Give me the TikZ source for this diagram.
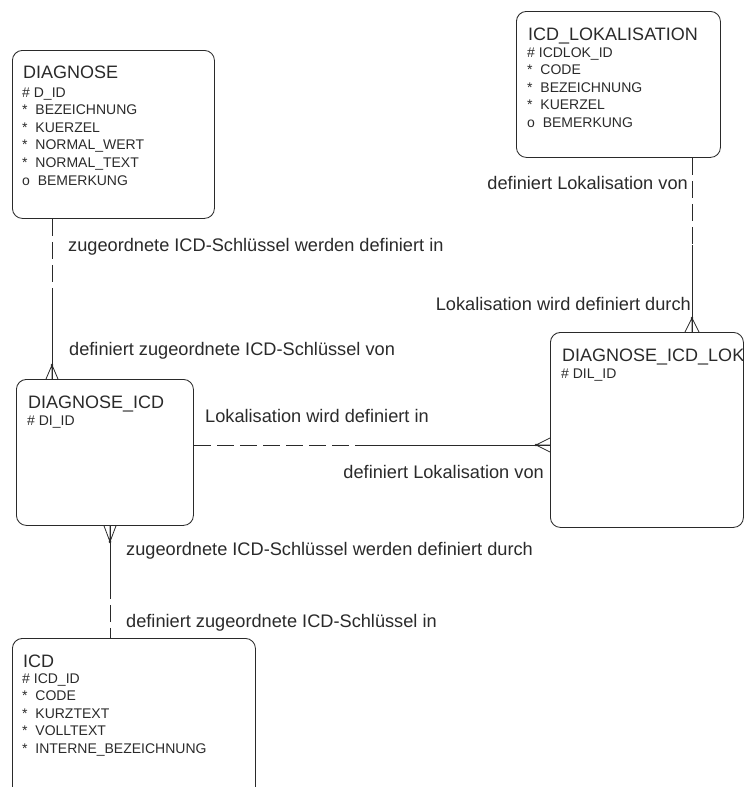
\documentclass[tikz,border=0pt]{standalone}
\usepackage{fontspec}
\setmainfont{Liberation Sans}
\usetikzlibrary{calc}
\definecolor{ink}{HTML}{2A2A2A}

\tikzset{
  entity/.style={draw=ink, line width=0.85pt, rounded corners=10pt, anchor=north west, inner sep=0pt},
  etitle/.style={anchor=base west, inner sep=0pt, text=ink, font=\fontsize{18}{20}\selectfont},
  eattr/.style={anchor=base west, inner sep=0pt, text=ink, font=\fontsize{14}{16}\selectfont},
  rlabel/.style={anchor=base west, inner sep=0pt, text=ink, font=\fontsize{18.2}{20}\selectfont},
  rlabelr/.style={rlabel, anchor=base east},
  optline/.style={draw=ink, line width=0.85pt, dash pattern=on 17pt off 6pt},
  reqline/.style={draw=ink, line width=0.85pt},
  crowfoot/.style={draw=ink, line width=0.8pt},
  crowdot/.style={fill=ink, draw=none},
}

\begin{document}
\begin{tikzpicture}[x=1pt, y=-1pt]
  \clip (0,0) rectangle (746,787);

  % ---------- entities ----------
  \node[entity, minimum width=202pt, minimum height=168pt] (diag) at (12,50) {};
  \node[etitle] (diag-t) at (23,78) {DIAGNOSE};
  \foreach \t [count=\i from 0] in {\# D\_ID, * \ BEZEICHNUNG, * \ KUERZEL,
      * \ NORMAL\_WERT, * \ NORMAL\_TEXT, o \ BEMERKUNG}
    \node[eattr] (diag-a\i) at ({22},{97+17.6*\i}) {\t};

  \node[entity, minimum width=204pt, minimum height=146pt] (lok) at (516,11) {};
  \node[etitle] (lok-t) at (528,40) {ICD\_LOKALISATION};
  \foreach \t [count=\i from 0] in {\# ICDLOK\_ID, * \ CODE, * \ BEZEICHNUNG,
      * \ KUERZEL, o \ BEMERKUNG}
    \node[eattr] (lok-a\i) at ({527},{57+17.5*\i}) {\t};

  \node[entity, minimum width=177pt, minimum height=146pt] (dicd) at (16,379) {};
  \node[etitle] (dicd-t) at (28,408) {DIAGNOSE\_ICD};
  \node[eattr] (dicd-a0) at (27,425) {\# DI\_ID};

  \node[entity, minimum width=193pt, minimum height=195pt] (dlok) at (550,332) {};
  \node[etitle] (dlok-t) at (562,361) {DIAGNOSE\_ICD\_LOK};
  \node[eattr] (dlok-a0) at (561,378) {\# DIL\_ID};

  \node[entity, minimum width=243pt, minimum height=190pt] (icd) at (12,638) {};
  \node[etitle] (icd-t) at (23,667) {ICD};
  \foreach \t [count=\i from 0] in {\# ICD\_ID, * \ CODE, * \ KURZTEXT,
      * \ VOLLTEXT, * \ INTERNE\_BEZEICHNUNG}
    \node[eattr] (icd-a\i) at ({22},{683+17.5*\i}) {\t};

  % ---------- connector end points ----------
  \coordinate (r1a) at (diag.south -| 52,0);
  \coordinate (r1b) at (dicd.north -| 52,0);
  \coordinate (r1m) at ($(r1a)!0.5!(r1b)$);

  \coordinate (r2a) at (lok.south -| 692,0);
  \coordinate (r2b) at (dlok.north -| 692,0);
  \coordinate (r2m) at ($(r2a)!0.5!(r2b)$);

  \coordinate (r3a) at (dicd.east |- 0,445);
  \coordinate (r3b) at (dlok.west |- 0,445);
  \coordinate (r3m) at ($(r3a)!0.5!(r3b)$);

  \coordinate (r4a) at (dicd.south -| 110,0);
  \coordinate (r4b) at (icd.north -| 110,0);
  \coordinate (r4m) at ($(r4a)!0.5!(r4b)$);

  % ---------- DIAGNOSE -> DIAGNOSE_ICD ----------
  \draw[optline] (r1a) -- (r1m);
  \draw[reqline] (r1m) -- (r1b);
  \draw[crowfoot] ($(r1b)+(-6,0)$) -- ($(r1b)+(0,-14)$) -- ($(r1b)+(6,0)$)
                  ($(r1b)+(0,-14)$) -- (r1b);
  \fill[crowdot] ($(r1b)+(0,-14)$) circle (1.4pt);

  % ---------- ICD_LOKALISATION -> DIAGNOSE_ICD_LOK ----------
  \draw[optline] (r2a) -- (r2m);
  \draw[reqline] (r2m) -- (r2b);
  \draw[crowfoot] ($(r2b)+(-7,0)$) -- ($(r2b)+(0,-14)$) -- ($(r2b)+(7,0)$)
                  ($(r2b)+(0,-14)$) -- (r2b);
  \fill[crowdot] ($(r2b)+(0,-14)$) circle (1.4pt);

  % ---------- DIAGNOSE_ICD -> DIAGNOSE_ICD_LOK ----------
  \draw[optline] (r3m) -- (r3a);
  \draw[reqline] (r3m) -- (r3b);
  \draw[crowfoot] ($(r3b)+(0,-7)$) -- ($(r3b)+(-14,0)$) -- ($(r3b)+(0,7)$)
                  ($(r3b)+(-14,0)$) -- (r3b);
  \fill[crowdot] ($(r3b)+(-14,0)$) circle (1.4pt);

  % ---------- ICD -> DIAGNOSE_ICD ----------
  \draw[reqline] (r4a) -- (r4m);
  \draw[optline] (r4m) -- (r4b);
  \draw[crowfoot] ($(r4a)+(-6,0)$) -- ($(r4a)+(0,16)$) -- ($(r4a)+(6,0)$)
                  ($(r4a)+(0,16)$) -- (r4a);
  \fill[crowdot] ($(r4a)+(0,16)$) circle (1.4pt);

  % ---------- relationship labels ----------
  \node[rlabel] (l1) at (68,251) {zugeordnete ICD-Schlüssel werden definiert in};
  \node[rlabel] (l2) at (69,355) {definiert zugeordnete ICD-Schlüssel von};
  \node[rlabelr] (l3) at (688,189) {definiert Lokalisation von};
  \node[rlabelr] (l4) at (691,310) {Lokalisation wird definiert durch};
  \node[rlabel] (l5) at (205,422) {Lokalisation wird definiert in};
  \node[rlabelr] (l6) at (544,478) {definiert Lokalisation von};
  \node[rlabel] (l7) at (126,555) {zugeordnete ICD-Schlüssel werden definiert durch};
  \node[rlabel] (l8) at (126,627) {definiert zugeordnete ICD-Schlüssel in};
\end{tikzpicture}
\end{document}
